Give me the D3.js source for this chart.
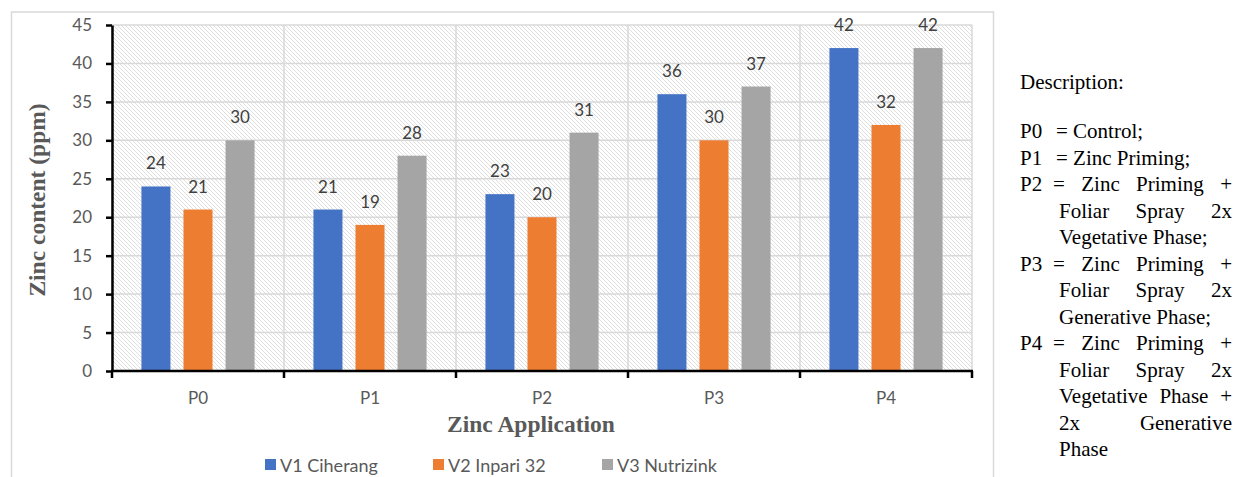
<!DOCTYPE html>
<html>
<head>
<meta charset="utf-8">
<script src="https://cdn.jsdelivr.net/npm/d3@7/dist/d3.min.js"></script>
<style>
  html, body { margin: 0; padding: 0; background: #fff; }
  svg { display: block; }
</style>
</head>
<body>
<svg id="chart" width="1235" height="477"></svg>
<script>
const categories = ["P0", "P1", "P2", "P3", "P4"];
const seriesNames = ["V1 Ciherang", "V2 Inpari 32", "V3 Nutrizink"];
const v1Ciherang = [24, 21, 23, 36, 42];
const v2Inpari32 = [21, 19, 20, 30, 32];
const v3Nutrizink = [30, 28, 31, 37, 42];
const yTicks = [0, 5, 10, 15, 20, 25, 30, 35, 40, 45];
const colors = ["#4472C4", "#ED7D31", "#A5A5A5"];
const yTitle = "Zinc content (ppm)";
const xTitle = "Zinc Application";
const descTitle = "Description:";
// each line: [label, text, justify]
const descLines = [
  ["P0", "= Control;", false],
  ["P1", "= Zinc Priming;", false],
  ["P2", "= Zinc Priming +", true],
  ["", "Foliar Spray 2x", true],
  ["", "Vegetative Phase;", false],
  ["P3", "= Zinc Priming +", true],
  ["", "Foliar Spray 2x", true],
  ["", "Generative Phase;", false],
  ["P4", "= Zinc Priming +", true],
  ["", "Foliar Spray 2x", true],
  ["", "Vegetative Phase +", true],
  ["", "2x Generative", true],
  ["", "Phase", false]
];

const seriesValues = [v1Ciherang, v2Inpari32, v3Nutrizink];

const svg = d3.select("#chart");
const plot = { left: 112, right: 972, top: 25, bottom: 371 };

// outer chart border
svg.append("rect")
  .attr("x", 11.5).attr("y", 12).attr("width", 982).attr("height", 500)
  .attr("fill", "#fff").attr("stroke", "#d9d9d9").attr("stroke-width", 1.5);

// hatch pattern
const defs = svg.append("defs");
const pat = defs.append("pattern")
  .attr("id", "hatch").attr("patternUnits", "userSpaceOnUse")
  .attr("width", 4).attr("height", 4);
pat.append("rect").attr("width", 4).attr("height", 4).attr("fill", "#fff");
pat.append("path")
  .attr("d", "M-1,-1 L5,5 M-1,3 L1,5 M3,-1 L5,1")
  .attr("stroke", "#d9d9d9").attr("stroke-width", 0.85);

const x0 = d3.scaleBand().domain(categories).range([plot.left, plot.right]).padding(0);
const x1 = d3.scaleBand().domain(seriesNames).range([0, x0.bandwidth()])
  .paddingInner(0.31).paddingOuter(0.7);
const y = d3.scaleLinear().domain([0, 45]).range([plot.bottom, plot.top]);

svg.append("rect")
  .attr("x", plot.left).attr("y", plot.top)
  .attr("width", plot.right - plot.left).attr("height", plot.bottom - plot.top)
  .attr("fill", "url(#hatch)");

// horizontal gridlines
svg.append("g").selectAll("line").data(yTicks).join("line")
  .attr("x1", plot.left).attr("x2", plot.right)
  .attr("y1", d => y(d)).attr("y2", d => y(d))
  .attr("stroke", "#d9d9d9").attr("stroke-width", 1.5);

// vertical gridlines at category boundaries
const bounds = categories.map(c => x0(c)).concat([x0(categories[categories.length - 1]) + x0.bandwidth()]);
svg.append("g").selectAll("line").data(bounds).join("line")
  .attr("x1", d => d).attr("x2", d => d)
  .attr("y1", plot.top).attr("y2", plot.bottom)
  .attr("stroke", "#d9d9d9").attr("stroke-width", 1.5);

// bars
const groups = svg.append("g").selectAll("g").data(categories).join("g")
  .attr("transform", c => `translate(${x0(c)},0)`);
groups.selectAll("rect")
  .data((c, i) => seriesNames.map((s, j) => ({ s, j, v: seriesValues[j][i] })))
  .join("rect")
  .attr("x", d => x1(d.s)).attr("width", x1.bandwidth())
  .attr("y", d => y(d.v)).attr("height", d => y(0) - y(d.v))
  .attr("fill", d => colors[d.j]);
groups.selectAll("text")
  .data((c, i) => seriesNames.map((s, j) => ({ s, j, v: seriesValues[j][i] })))
  .join("text")
  .attr("x", d => x1(d.s) + x1.bandwidth() / 2)
  .attr("y", d => y(d.v) - 17)
  .attr("text-anchor", "middle")
  .attr("font-family", "Lato, 'Open Sans', sans-serif")
  .attr("font-size", 17).attr("fill", "#404040")
  .text(d => d.v);

// y axis
const yAxis = d3.axisLeft(y).tickValues(yTicks).tickSize(6).tickPadding(14).tickSizeOuter(0);
const gy = svg.append("g").attr("transform", `translate(${plot.left},0)`).call(yAxis);
gy.select(".domain").attr("stroke", "#000").attr("stroke-width", 2.5);
gy.selectAll(".tick line").attr("stroke", "#000").attr("stroke-width", 2.5);
gy.selectAll(".tick text")
  .attr("font-family", "Lato, 'Open Sans', sans-serif")
  .attr("font-size", 17).attr("fill", "#595959");

// x axis labels
const xAxis = d3.axisBottom(x0).tickSize(0).tickPadding(21).tickSizeOuter(0);
const gx = svg.append("g").attr("transform", `translate(0,${plot.bottom})`).call(xAxis);
gx.select(".domain").remove();
gx.selectAll(".tick text")
  .attr("font-family", "Lato, 'Open Sans', sans-serif")
  .attr("font-size", 17).attr("fill", "#595959");
// x axis line and boundary ticks
svg.append("line")
  .attr("x1", plot.left - 1).attr("x2", plot.right + 1)
  .attr("y1", plot.bottom).attr("y2", plot.bottom)
  .attr("stroke", "#000").attr("stroke-width", 2.5);
svg.append("g").selectAll("line").data(bounds).join("line")
  .attr("x1", d => d).attr("x2", d => d)
  .attr("y1", plot.bottom).attr("y2", plot.bottom + 7)
  .attr("stroke", "#000").attr("stroke-width", 2.5);

// axis titles
svg.append("text")
  .attr("transform", "translate(45,200) rotate(-90)")
  .attr("text-anchor", "middle")
  .attr("font-family", "'Liberation Serif', 'Times New Roman', serif")
  .attr("font-weight", "bold").attr("font-size", 23.5).attr("fill", "#595959")
  .text(yTitle);
svg.append("text")
  .attr("x", 531).attr("y", 432)
  .attr("text-anchor", "middle")
  .attr("font-family", "'Liberation Serif', 'Times New Roman', serif")
  .attr("font-weight", "bold").attr("font-size", 23.5).attr("fill", "#595959")
  .text(xTitle);

// legend
const legendX = [265, 433, 602];
const lg = svg.append("g").selectAll("g").data(seriesNames).join("g")
  .attr("transform", (d, i) => `translate(${legendX[i]},459)`);
lg.append("rect").attr("width", 11).attr("height", 11).attr("fill", (d, i) => colors[i]);
lg.append("text").attr("x", 15).attr("y", 12.5)
  .attr("font-family", "Lato, 'Open Sans', sans-serif")
  .attr("font-size", 18).attr("fill", "#595959")
  .text(d => d);

// description
const dFont = "'Liberation Serif', 'Times New Roman', serif";
const dSize = 21;
svg.append("text").attr("x", 1020).attr("y", 89)
  .attr("font-family", dFont).attr("font-size", dSize).attr("fill", "#000")
  .text(descTitle);
const dg = svg.append("g");
const textLeft = 1056, contLeft = 1059, rightEdge = 1232;
descLines.forEach((ln, i) => {
  const yy = 138 + i * 26.5;
  if (ln[0]) {
    dg.append("text").attr("x", 1020).attr("y", yy)
      .attr("font-family", dFont).attr("font-size", dSize).text(ln[0]);
  }
  const left = ln[0] ? (ln[2] ? 1053 : textLeft) : contLeft;
  if (!ln[2]) {
    dg.append("text").attr("x", left).attr("y", yy)
      .attr("font-family", dFont).attr("font-size", dSize).text(ln[1]);
  } else {
    const words = ln[1].split(" ");
    const nodes = words.map(w => dg.append("text").attr("y", yy)
      .attr("font-family", dFont).attr("font-size", dSize).text(w));
    const widths = nodes.map(n => n.node().getComputedTextLength());
    const total = d3.sum(widths);
    const gap = (rightEdge - left - total) / (words.length - 1);
    let cx = left;
    nodes.forEach((n, k) => { n.attr("x", cx); cx += widths[k] + gap; });
  }
});
</script>
</body>
</html>
